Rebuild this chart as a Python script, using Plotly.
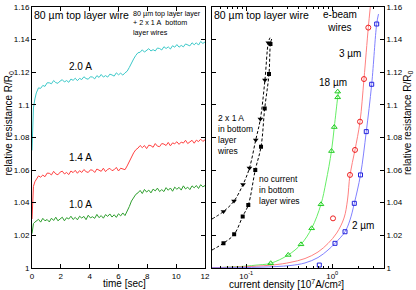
import plotly.graph_objects as go

# ---------------- left panel: time traces ----------------
time_s = [0, 0.05, 0.1, 0.2, 0.3,
          0.45, 0.6, 0.75, 0.9, 1.05, 1.2, 1.35, 1.5, 1.65, 1.8, 1.95,
          2.1, 2.25, 2.4, 2.55, 2.7, 2.85, 3.0, 3.15, 3.3, 3.45, 3.6, 3.75, 3.9, 4.05, 4.2, 4.35,
          4.5, 4.65, 4.8, 4.95, 5.1, 5.25, 5.4, 5.55, 5.7, 5.85, 6.0, 6.15, 6.3, 6.45,
          6.6, 6.75, 6.9, 7.05, 7.2, 7.35,
          7.5, 7.65, 7.8, 7.95, 8.1, 8.25, 8.4, 8.55, 8.7, 8.85, 9.0, 9.15,
          9.3, 9.45, 9.6, 9.75, 9.9, 10.05, 10.2, 10.35, 10.5, 10.65, 10.8, 10.95, 11.1, 11.25,
          11.4, 11.55, 11.7, 11.85, 12.0]

r_2p0A = [1.072, 1.088, 1.098, 1.1035, 1.1072,
          1.1103, 1.1100, 1.1118, 1.1112, 1.1134, 1.1134, 1.1128, 1.1148, 1.1135, 1.1131, 1.1145,
          1.1153, 1.1139, 1.1148, 1.1137, 1.1157, 1.1149, 1.1162, 1.1147, 1.1161, 1.1154, 1.1171,
          1.1160, 1.1156, 1.1171, 1.1169, 1.1158, 1.1178, 1.1167, 1.1185, 1.1169, 1.1178, 1.1169,
          1.1187, 1.1182, 1.1175, 1.1195, 1.1183, 1.1193, 1.1181, 1.1195,
          1.1205, 1.1228, 1.1257, 1.1280, 1.1302, 1.1318,
          1.1321, 1.1336, 1.1322, 1.1334, 1.1343, 1.1329, 1.1337, 1.1329, 1.1347, 1.1344, 1.1335,
          1.1355, 1.1344, 1.1354, 1.1341, 1.1361, 1.1352, 1.1368, 1.1352, 1.1363, 1.1354, 1.1372,
          1.1365, 1.1360, 1.1379, 1.1367, 1.1379, 1.1365, 1.1387, 1.1375, 1.1384]

r_1p4A = [1.030, 1.045, 1.050, 1.0528, 1.0542,
          1.0564, 1.0556, 1.0569, 1.0559, 1.0581, 1.0580, 1.0570, 1.0592, 1.0576, 1.0571, 1.0587,
          1.0593, 1.0576, 1.0585, 1.0572, 1.0594, 1.0584, 1.0598, 1.0580, 1.0596, 1.0585, 1.0603,
          1.0590, 1.0585, 1.0601, 1.0599, 1.0585, 1.0606, 1.0597, 1.0592, 1.0611, 1.0590, 1.0604,
          1.0610, 1.0596, 1.0602, 1.0616, 1.0594, 1.0611, 1.0608, 1.0602,
          1.0625, 1.0652, 1.0683, 1.0705, 1.0724, 1.0734,
          1.0750, 1.0737, 1.0750, 1.0731, 1.0752, 1.0749, 1.0739, 1.0762, 1.0746, 1.0743, 1.0762,
          1.0759, 1.0750, 1.0769, 1.0748, 1.0766, 1.0761, 1.0773, 1.0757, 1.0771, 1.0765, 1.0782,
          1.0762, 1.0774, 1.0782, 1.0764, 1.0783, 1.0774, 1.0789, 1.0775, 1.0785]

r_1p0A = [1.021, 1.0255, 1.0272, 1.0281, 1.0290,
          1.0298, 1.0281, 1.0304, 1.0289, 1.0297, 1.0282, 1.0305, 1.0291, 1.0311, 1.0289, 1.0301,
          1.0311, 1.0289, 1.0308, 1.0300, 1.0317, 1.0297, 1.0310, 1.0295, 1.0317, 1.0306, 1.0316,
          1.0296, 1.0323, 1.0307, 1.0314, 1.0304, 1.0328, 1.0308, 1.0321, 1.0305, 1.0327, 1.0316,
          1.0331, 1.0312, 1.0326, 1.0310, 1.0332, 1.0319, 1.0337, 1.0321,
          1.0345, 1.0376, 1.0410, 1.0432, 1.0451, 1.0460,
          1.0475, 1.0456, 1.0481, 1.0465, 1.0477, 1.0460, 1.0483, 1.0472, 1.0489, 1.0468, 1.0480,
          1.0468, 1.0492, 1.0476, 1.0490, 1.0470, 1.0495, 1.0482, 1.0494, 1.0477, 1.0503, 1.0484,
          1.0495, 1.0480, 1.0503, 1.0491, 1.0505, 1.0487, 1.0510, 1.0497, 1.0505]

# ---------------- right panel: resistance vs current density ----------------
# top-layer wire, 2 x 1 A in bottom layer wires (filled down-triangles, dashed fit)
j_bot_on = [0.0544, 0.0721, 0.0917, 0.109, 0.129, 0.146, 0.165, 0.1806]
r_bot_on = [1.0346, 1.0410, 1.0511, 1.0612, 1.0784, 1.0912, 1.1151, 1.1380]
fit_j_bot_on = [0.040, 0.0544, 0.0721, 0.0917, 0.109, 0.129, 0.146, 0.165, 0.1806, 0.189]
fit_r_bot_on = [1.0300, 1.0346, 1.0410, 1.0511, 1.0612, 1.0784, 1.0912, 1.1151, 1.1380, 1.1410]

# top-layer wire, no current in bottom layer wires (filled squares, dashed fit)
j_bot_off = [0.0544, 0.0724, 0.091, 0.1057, 0.1274, 0.1486, 0.164, 0.184, 0.1914]
r_bot_off = [1.0152, 1.0206, 1.0316, 1.0386, 1.0600, 1.0743, 1.0976, 1.1188, 1.1372]
fit_j_bot_off = [0.040, 0.0544, 0.0724, 0.091, 0.1057, 0.1274, 0.1486, 0.164, 0.184, 0.1914, 0.1995]
fit_r_bot_off = [1.0110, 1.0152, 1.0206, 1.0316, 1.0386, 1.0600, 1.0743, 1.0976, 1.1188, 1.1372, 1.1408]

# e-beam wires
j_18um = [0.1926, 0.308, 0.4335, 0.5768, 0.740, 0.980, 1.057, 1.158, 1.158]
r_18um = [1.0029, 1.0080, 1.0145, 1.0243, 1.0390, 1.0716, 1.0863, 1.1045, 1.1080]
fit_j_18um = [0.040, 0.0847, 0.1265, 0.1926, 0.308, 0.4335, 0.5768, 0.740, 0.8464, 0.980, 1.057, 1.158, 1.183]
fit_r_18um = [1.0001, 1.0009, 1.0017, 1.0029, 1.0080, 1.0145, 1.0243, 1.0390, 1.0527, 1.0716, 1.0863, 1.1045, 1.1080]

j_3um = [1.021, 1.609, 1.840, 2.104, 2.340, 2.627]
r_3um = [1.0304, 1.0570, 1.0723, 1.0896, 1.1157, 1.1472]
fit_j_3um = [0.040, 0.1107, 0.2161, 0.3228, 0.4825, 0.6833, 0.8929, 1.127, 1.371, 1.505, 1.609, 1.840, 2.104, 2.340, 2.627, 2.772]
fit_r_3um = [1.0002, 1.0009, 1.0020, 1.0034, 1.0058, 1.0098, 1.0150, 1.0214, 1.0306, 1.0416, 1.0570, 1.0723, 1.0896, 1.1157, 1.1472, 1.1598]

j_2um = [0.7075, 1.077, 1.408, 1.806, 2.132, 2.489, 2.877, 3.289]
r_2um = [1.0018, 1.0151, 1.0222, 1.0396, 1.0570, 1.0835, 1.1125, 1.1494]
fit_j_2um = [0.040, 0.1446, 0.3228, 0.4825, 0.6833, 0.8929, 1.077, 1.408, 1.609, 1.806, 2.132, 2.489, 2.877, 3.289, 3.451]
fit_r_2um = [1.0001, 1.0005, 1.0015, 1.0031, 1.0064, 1.0110, 1.0151, 1.0222, 1.0294, 1.0396, 1.0570, 1.0835, 1.1125, 1.1494, 1.1555]

y_tickvals = [1.0, 1.02, 1.04, 1.06, 1.08, 1.1, 1.12, 1.14, 1.16]
y_ticktext = ["1", "1.02", "1.04", "1.06", "1.08", "1.1", "1.12", "1.14", "1.16"]
x_tickvals = [0, 2, 4, 6, 8, 10, 12]
xlog_tickvals = [0.1, 1]
xlog_ticktext = ["10<sup>-1</sup>", "10<sup>0</sup>"]
xlog_minor = [0.04, 0.05, 0.06, 0.07, 0.08, 0.09, 0.2, 0.3, 0.4, 0.5, 0.6, 0.7, 0.8, 0.9, 2, 3, 4]

FONT = "Liberation Sans, Arial, Helvetica, sans-serif"
W, H = 416, 290

def px(x):
    return x / W

def py(y):
    return 1 - y / H

fig = go.Figure()

# left traces
fig.add_trace(go.Scatter(x=time_s, y=r_2p0A, mode="lines", line=dict(color="#3cc8c8", width=1),
                         xaxis="x", yaxis="y"))
fig.add_trace(go.Scatter(x=time_s, y=r_1p4A, mode="lines", line=dict(color="#ff4040", width=1),
                         xaxis="x", yaxis="y"))
fig.add_trace(go.Scatter(x=time_s, y=r_1p0A, mode="lines", line=dict(color="#2e9e2e", width=1),
                         xaxis="x", yaxis="y"))

# right: fitted curves
dash = "3px,2px"
fig.add_trace(go.Scatter(x=fit_j_bot_on, y=fit_r_bot_on, mode="lines", line_shape="spline",
                         line=dict(color="black", width=1, dash=dash), xaxis="x2", yaxis="y2"))
fig.add_trace(go.Scatter(x=fit_j_bot_off, y=fit_r_bot_off, mode="lines", line_shape="spline",
                         line=dict(color="black", width=1, dash=dash), xaxis="x2", yaxis="y2"))
fig.add_trace(go.Scatter(x=fit_j_18um, y=fit_r_18um, mode="lines", line_shape="spline",
                         line=dict(color="#66ee66", width=1), xaxis="x2", yaxis="y2"))
fig.add_trace(go.Scatter(x=fit_j_3um, y=fit_r_3um, mode="lines", line_shape="spline",
                         line=dict(color="#ff8080", width=1), xaxis="x2", yaxis="y2"))
fig.add_trace(go.Scatter(x=fit_j_2um, y=fit_r_2um, mode="lines", line_shape="spline",
                         line=dict(color="#8080ff", width=1), xaxis="x2", yaxis="y2"))

# right: markers
fig.add_trace(go.Scatter(x=j_bot_on, y=r_bot_on, mode="markers",
                         marker=dict(symbol="triangle-down", size=5, color="black"), xaxis="x2", yaxis="y2"))
fig.add_trace(go.Scatter(x=j_bot_off, y=r_bot_off, mode="markers",
                         marker=dict(symbol="square", size=4, color="black"), xaxis="x2", yaxis="y2"))
fig.add_trace(go.Scatter(x=j_18um, y=r_18um, mode="markers",
                         marker=dict(symbol="triangle-up-open", size=5, color="#22cc22", line=dict(width=1)),
                         xaxis="x2", yaxis="y2"))
fig.add_trace(go.Scatter(x=j_3um, y=r_3um, mode="markers",
                         marker=dict(symbol="circle-open", size=5, color="#ee2222", line=dict(width=1)),
                         xaxis="x2", yaxis="y2"))
fig.add_trace(go.Scatter(x=j_2um, y=r_2um, mode="markers",
                         marker=dict(symbol="square-open", size=4, color="#2222dd", line=dict(width=1)),
                         xaxis="x2", yaxis="y2"))

axis_common = dict(showline=True, linecolor="black", linewidth=1, mirror="ticks", ticks="inside",
                   ticklen=4, tickcolor="black", tickwidth=1, showgrid=False, zeroline=False,
                   automargin=False, tickfont=dict(family=FONT, size=8, color="black"))

fig.update_layout(
    width=W, height=H, margin=dict(l=0, r=0, t=0, b=0, pad=0, autoexpand=False),
    paper_bgcolor="white", plot_bgcolor="white", showlegend=False,
    font=dict(family=FONT, color="black"),
    xaxis=dict(domain=[px(32), px(205)], range=[0, 12], anchor="y",
               tickmode="array", tickvals=x_tickvals, **axis_common),
    yaxis=dict(domain=[py(268), py(6.7)], range=[1, 1.16], anchor="x",
               tickmode="array", tickvals=y_tickvals, ticktext=y_ticktext, **axis_common),
    xaxis2=dict(domain=[px(212), px(384)], type="log", range=[-1.39794, 0.60206], anchor="y2",
                tickmode="array", tickvals=xlog_tickvals, ticktext=xlog_ticktext,
                minor=dict(tickmode="array", tickvals=xlog_minor, ticks="inside", ticklen=2,
                           tickcolor="black"),
                **axis_common),
    yaxis2=dict(domain=[py(268), py(6.7)], range=[1, 1.16], anchor="x2", side="right",
                tickmode="array", tickvals=y_tickvals, ticktext=y_ticktext, **axis_common),
)

def ann(text, x, y, size, xanchor="center", yanchor="middle", angle=0, align="left"):
    fig.add_annotation(text=text, x=px(x), y=py(y), xref="paper", yref="paper", showarrow=False,
                       xanchor=xanchor, yanchor=yanchor, textangle=angle, align=align,
                       font=dict(family=FONT, size=size, color="black"), borderpad=0)

# left panel texts
ann("80 µm top layer wire", 33, 15, 10.5, xanchor="left")
ann("80 µm top layer layer<br>+ 2 x 1 A\u00a0\u00a0bottom<br>layer wires", 132, 23, 7.2, xanchor="left")
ann("2.0 A", 80, 66.5, 10)
ann("1.4 A", 80, 157.5, 10)
ann("1.0 A", 80, 204.5, 10)
ann("time [sec]", 124, 283.5, 10)
ann("relative resistance R/R<sub>0</sub>", 8.5, 123, 10, angle=-90)

# right panel texts
ann("80 µm top layer wire", 213, 15, 10.5, xanchor="left")
ann("e-beam<br>wires", 340, 21.5, 10, align="center")
ann("3 µm", 350, 53, 10)
ann("18 µm", 333, 82.5, 10)
ann("2 µm", 363, 225, 10)
ann("2 x 1 A<br>in bottom<br>layer<br>wires", 215.5, 135, 8.5, xanchor="left")
ann("no current<br>in bottom<br>layer wires", 258, 189.5, 8.5, xanchor="left")
ann("current density [10<sup>7</sup>A/cm²]", 286.5, 283.5, 10)
ann("relative resistance R/R<sub>0</sub>", 408, 123, 10, angle=-90)

fig.write_html("out.html", config={"displayModeBar": False},
               post_script="document.body.style.margin='0';")
